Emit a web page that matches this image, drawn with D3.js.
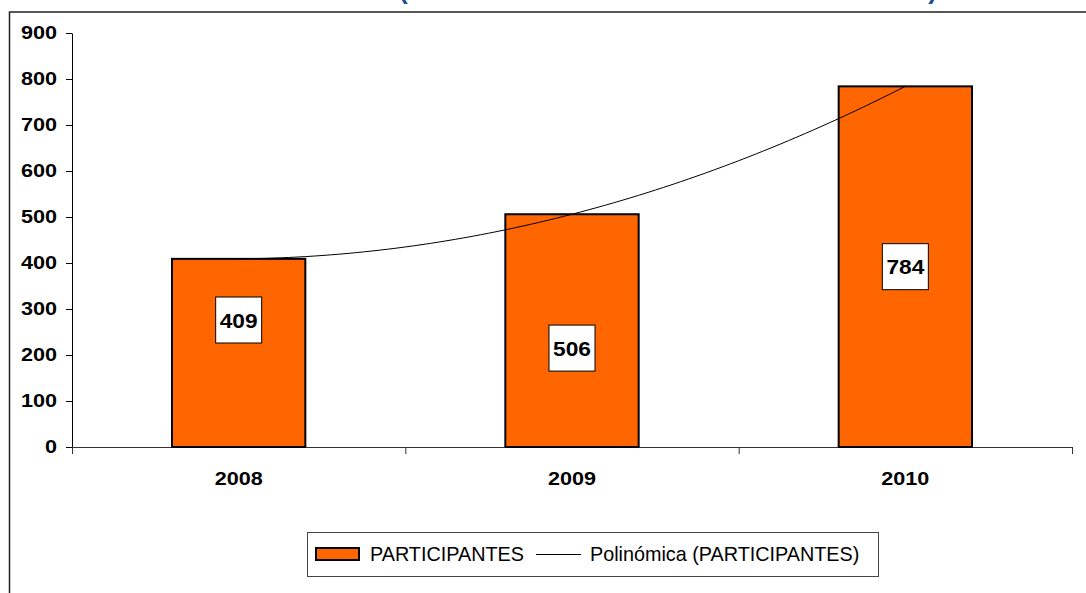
<!DOCTYPE html>
<html lang="es">
<head>
    <meta charset="utf-8">
    <title>Participantes</title>
    <script src="https://d3js.org/d3.v7.min.js"></script>
    <style>
        body { margin: 0; background: #fff; }
        svg { display: block; font-family: "Liberation Sans", Arial, sans-serif; }
    </style>
</head>
<body>
<div id="chart"></div>
<script>
    // Data
    const years = ["2008", "2009", "2010"];
    const participantes = [409, 506, 784];
    const yTicks = [0, 100, 200, 300, 400, 500, 600, 700, 800, 900];
    const legendLabels = ["PARTICIPANTES", "Polinómica (PARTICIPANTES)"];
    const titleText = "(NÚMERO DE PARTICIPANTES 2008 - 2010)";

    // where each value box sits inside its bar (fraction of bar height)
    const labelFrac = [0.675, 0.425, 0.5];

    const W = 1086, H = 593;
    const plot = {left: 72, right: 1072, top: 33, bottom: 447};
    const orange = "#ff6600";
    const stretch = 1.2;

    const svg = d3.select("#chart").append("svg")
        .attr("width", W)
        .attr("height", H);

    // outer chart frame (right and bottom fall outside the picture)
    svg.append("rect")
        .attr("x", 9.5).attr("y", 12)
        .attr("width", W + 20).attr("height", H + 20)
        .attr("fill", "#fff")
        .attr("stroke", "#222")
        .attr("stroke-width", 1.5);

    // title, cut off above the picture: only the bracket tails show
    svg.append("text")
        .attr("x", 399).attr("y", -1.5)
        .attr("textLength", 538)
        .attr("lengthAdjust", "spacingAndGlyphs")
        .attr("fill", "#1f4e8c")
        .attr("font-weight", "bold")
        .attr("font-size", 26)
        .text(titleText);

    const x = d3.scaleBand()
        .domain(years)
        .range([plot.left, plot.right])
        .paddingInner(0.6)
        .paddingOuter(0.3);

    const y = d3.scaleLinear()
        .domain([0, 900])
        .range([plot.bottom, plot.top]);

    // Y axis
    const yAxis = svg.append("g")
        .attr("transform", `translate(${plot.left},0)`)
        .call(d3.axisLeft(y).tickValues(yTicks).tickSize(6).tickSizeOuter(0));
    yAxis.select(".domain").attr("stroke", "#000");
    yAxis.selectAll(".tick line").attr("stroke", "#000");
    yAxis.selectAll(".tick text")
        .attr("x", -15 / stretch)
        .attr("transform", `scale(${stretch},1)`)
        .attr("font-size", 18)
        .attr("font-weight", "bold")
        .attr("font-family", "'Liberation Sans', Arial, sans-serif")
        .attr("fill", "#000");

    // X axis: ticks on category boundaries
    const xEdge = d3.scaleLinear().domain([0, years.length]).range([plot.left, plot.right]);
    const xAxis = svg.append("g")
        .attr("transform", `translate(0,${plot.bottom})`)
        .call(d3.axisBottom(xEdge).tickValues(d3.range(years.length + 1)).tickSize(7)
            .tickSizeOuter(0).tickFormat(""));
    xAxis.select(".domain").attr("stroke", "#333");
    xAxis.selectAll(".tick line").attr("stroke", "#333");

    // X category labels
    const xLab = svg.append("g")
        .attr("transform", `translate(0,${plot.bottom})`)
        .call(d3.axisBottom(x).tickSize(0).tickPadding(0));
    xLab.select(".domain").remove();
    xLab.selectAll(".tick text")
        .attr("y", 38)
        .attr("dy", 0)
        .attr("transform", `scale(${stretch},1)`)
        .attr("font-size", 18)
        .attr("font-weight", "bold")
        .attr("font-family", "'Liberation Sans', Arial, sans-serif")
        .attr("fill", "#000");

    // Bars
    svg.append("g")
        .selectAll("rect")
        .data(participantes)
        .join("rect")
        .attr("x", (d, i) => x(years[i]))
        .attr("y", d => y(d))
        .attr("width", x.bandwidth())
        .attr("height", d => y(0) - y(d))
        .attr("fill", orange)
        .attr("stroke", "#000")
        .attr("stroke-width", 2);

    // Polynomial (order 2) trendline: with three points the fit goes through all of them
    const n = participantes.length;
    const poly = t => d3.sum(participantes, (yi, i) => {
        let p = yi;
        for (let j = 0; j < n; j++) if (j !== i) p *= (t - j) / (i - j);
        return p;
    });
    const tx = d3.scaleLinear()
        .domain([0, n - 1])
        .range([x(years[0]) + x.bandwidth() / 2, x(years[n - 1]) + x.bandwidth() / 2]);
    const ts = d3.range(0, n - 1 + 1e-9, (n - 1) / 80);
    svg.append("path")
        .datum(ts)
        .attr("fill", "none")
        .attr("stroke", "#000")
        .attr("stroke-width", 1)
        .attr("d", d3.line().x(t => tx(t)).y(t => y(poly(t))));

    // Value labels in white boxes
    const lab = svg.append("g")
        .selectAll("g")
        .data(participantes)
        .join("g")
        .attr("transform", (d, i) =>
            `translate(${x(years[i]) + x.bandwidth() / 2},${y(d * labelFrac[i])})`);
    lab.append("rect")
        .attr("x", -23).attr("y", -23)
        .attr("width", 46).attr("height", 46)
        .attr("fill", "#fff")
        .attr("stroke", "#000")
        .attr("stroke-width", 1);
    lab.append("text")
        .attr("text-anchor", "middle")
        .attr("y", 7.5)
        .attr("transform", "scale(1.08,1)")
        .attr("font-size", 21)
        .attr("font-weight", "bold")
        .text(d => d);

    // Legend
    const leg = svg.append("g");
    leg.append("rect")
        .attr("x", 307.5).attr("y", 532.5)
        .attr("width", 571).attr("height", 44)
        .attr("fill", "#fff")
        .attr("stroke", "#444")
        .attr("stroke-width", 1);
    leg.append("rect")
        .attr("x", 316).attr("y", 548)
        .attr("width", 43).attr("height", 12)
        .attr("fill", orange)
        .attr("stroke", "#000")
        .attr("stroke-width", 2);
    leg.append("text")
        .attr("x", 370).attr("y", 561)
        .attr("font-size", 19.8)
        .text(legendLabels[0]);
    leg.append("line")
        .attr("x1", 536).attr("x2", 581)
        .attr("y1", 554.5).attr("y2", 554.5)
        .attr("stroke", "#000")
        .attr("stroke-width", 1);
    leg.append("text")
        .attr("x", 590).attr("y", 561)
        .attr("font-size", 19.8)
        .text(legendLabels[1]);
</script>
</body>
</html>
